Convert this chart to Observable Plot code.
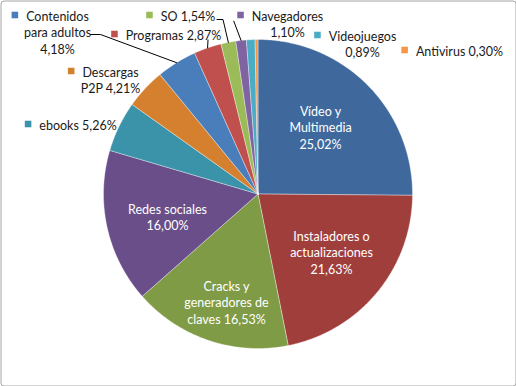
<!DOCTYPE html>
<html>
<head>
<meta charset="utf-8">
<script src="https://cdn.jsdelivr.net/npm/d3@7"></script>
<script src="https://cdn.jsdelivr.net/npm/@observablehq/plot@0.6"></script>
<style>
  html, body { margin: 0; padding: 0; background: #fff; }
  #chart svg { display: block; background: #fff; }
</style>
</head>
<body>
<div id="chart"></div>
<script>
// ---- data ----
const categories = ["Vídeo y Multimedia", "Instaladores o actualizaciones", "Cracks y generadores de claves",
  "Redes sociales", "ebooks", "Descargas P2P", "Contenidos para adultos", "Programas", "SO",
  "Navegadores", "Videojuegos", "Antivirus"];
const values = [25.02, 21.63, 16.53, 16.00, 5.26, 4.21, 4.18, 2.87, 1.54, 1.10, 0.89, 0.30];
// category names as wrapped in the label (text), value appended after
const labelNames = ["Vídeo y\nMultimedia\n", "Instaladores o\nactualizaciones\n", "Cracks y\ngeneradores de\nclaves ",
  "Redes sociales\n", "ebooks ", "Descargas\nP2P ", "Contenidos\npara adultos\n", "Programas ", "SO ",
  "Navegadores\n", "Videojuegos\n", "Antivirus "];
const colors = ["#3f699c", "#9f3e3b", "#7f9b46", "#694e89", "#3b93a9", "#d5802f",
  "#4a7ebb", "#c0504d", "#9bbb59", "#8064a2", "#4bacc6", "#f79646"];

// ---- layout ----
const W = 516, H = 386;
const cx = 257.5, cy = 193.5, R = 154.5;
const FONT = "Lato", FS = 12.5, LH = 16.5;
const labelX = [320, 331, 226, 167, 77.5, 110, 57, 173, 187.5, 287, 362, 459];
const labelY = [110, 235, 285, 208, 124, 71, 15, 34, 15, 15, 35, 50]; // centre of first line
const inside = [true, true, true, true, false, false, false, false, false, false, false, false];
const leaderStart = {6: [[90, 34], [100, 34]], 7: [[207.5, 39.5]], 8: [[216.5, 19], [222.5, 19]], 9: [[233.3, 20.7]]};

const fmt = v => v.toFixed(2).replace(".", ",") + "%";

const rows = categories.map((name, i) => ({name, value: values[i], i}));
const arcs = d3.pie().sort(null).value(d => d.value).startAngle(0).endAngle(2 * Math.PI)(rows);

const pt = (a, r) => [cx + r * Math.sin(a), cy - r * Math.cos(a)];

// slice polygons
const slicePts = [];
for (const a of arcs) {
  const name = a.data.name;
  slicePts.push({name, x: cx, y: cy});
  const n = Math.max(2, Math.ceil((a.endAngle - a.startAngle) / (Math.PI / 360)));
  for (let k = 0; k <= n; k++) {
    const ang = a.startAngle + (a.endAngle - a.startAngle) * k / n;
    const [x, y] = pt(ang, R);
    slicePts.push({name, x, y});
  }
  slicePts.push({name, x: cx, y: cy});
}

// leader lines
const leaderPts = [];
for (const [k, starts] of Object.entries(leaderStart)) {
  const a = arcs[+k];
  const name = a.data.name;
  for (const [x, y] of starts) leaderPts.push({name, x, y});
  const [ex, ey] = pt((a.startAngle + a.endAngle) / 2, R);
  leaderPts.push({name, x: ex, y: ey});
}

// labels
const ctx = document.createElement("canvas").getContext("2d");
ctx.font = `${FS}px ${FONT}`;
const labels = rows.map((d, i) => {
  const text = labelNames[i] + fmt(d.value);
  const lines = text.split("\n");
  return {name: d.name, text, lines, x: labelX[i], y: labelY[i] + (lines.length - 1) * LH / 2, inside: inside[i], firstY: labelY[i]};
});
const keys = labels.filter(l => !l.inside).map(l => {
  const w = ctx.measureText(l.lines[0]).width;
  return {name: l.name, x: l.x - w / 2 - 8 - 3.25, y: l.firstY - 0.5};
});

const chart = Plot.plot({
  width: W, height: H, margin: 0,
  x: {domain: [0, W], range: [0, W], axis: null},
  y: {domain: [0, H], range: [0, H], axis: null},
  color: {domain: categories, range: colors},
  style: {fontFamily: FONT, background: "#fff"},
  marks: [
    Plot.frame({stroke: "#a6a6a6", strokeWidth: 1, rx: 3, inset: 0.5}),
    Plot.line(slicePts, {x: "x", y: "y", z: "name", fill: "name", stroke: "#ffffff", strokeOpacity: 0.45, strokeWidth: 0.8, curve: "linear"}),
    Plot.line(leaderPts, {x: "x", y: "y", z: "name", stroke: "#000", strokeWidth: 1, curve: "linear"}),
    Plot.dot(keys, {x: "x", y: "y", symbol: "square", r: 3.7, fill: "name", stroke: null}),
    Plot.text(labels.filter(l => l.inside), {x: "x", y: "y", text: "text", fill: "#fff", fontSize: FS, lineHeight: LH / FS, textAnchor: "middle", fontFamily: FONT}),
    Plot.text(labels.filter(l => !l.inside), {x: "x", y: "y", text: "text", fill: "#1a1a1a", fontSize: FS, lineHeight: LH / FS, textAnchor: "middle", fontFamily: FONT})
  ]
});
document.getElementById("chart").appendChild(chart);
</script>
</body>
</html>
